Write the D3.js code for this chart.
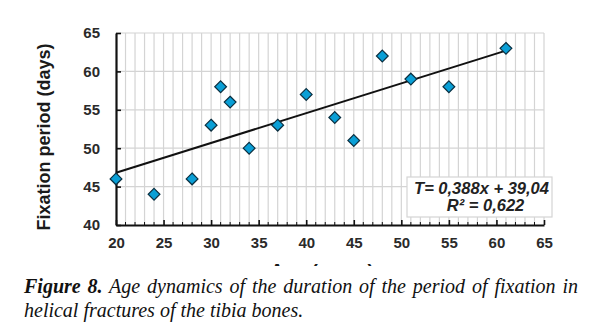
<!DOCTYPE html>
<html>
<head>
<meta charset="utf-8">
<script src="https://cdn.jsdelivr.net/npm/d3@7"></script>
<style>
  html, body { margin: 0; padding: 0; background: #fff; }
  svg { display: block; }
</style>
</head>
<body>
<script>
// Age (years) vs. fixation period (days)
const ages = [20, 24, 28, 30, 31, 32, 34, 37, 40, 43, 45, 48, 51, 55, 61];
const days = [46, 44, 46, 53, 58, 56, 50, 53, 57, 54, 51, 62, 59, 58, 63];
const xTicks = [20, 25, 30, 35, 40, 45, 50, 55, 60, 65];
const yTicks = [40, 45, 50, 55, 60, 65];
const slope = 0.388, intercept = 39.04, r2 = "0,622";
const fitRange = [20, 61];

const W = 598, H = 336;
const svg = d3.select("body").append("svg").attr("width", W).attr("height", H);

const x = d3.scaleLinear().domain([20, 65]).range([116, 544]);
const y = d3.scaleLinear().domain([40, 65]).range([225, 33]);

const g = svg.append("g");

// grid: one vertical line per year, horizontal lines every 5 days
g.selectAll("line.vgrid").data(d3.range(21, 66)).join("line")
  .attr("x1", d => x(d)).attr("x2", d => x(d))
  .attr("y1", y(40)).attr("y2", y(65))
  .attr("stroke", "#d4d4d4").attr("stroke-width", 1.2);
g.selectAll("line.hgrid").data(yTicks.slice(1)).join("line")
  .attr("x1", x(20)).attr("x2", x(65))
  .attr("y1", d => y(d)).attr("y2", d => y(d))
  .attr("stroke", "#d4d4d4").attr("stroke-width", 1.2);

// axes
const axisFont = "bold 15px 'Liberation Sans', Arial, sans-serif";
const xAxis = g.append("g").attr("transform", `translate(0,${y(40)})`)
  .call(d3.axisBottom(x).tickValues(xTicks).tickSize(-5).tickSizeOuter(0).tickPadding(12));
const yAxis = g.append("g").attr("transform", `translate(${x(20)},0)`)
  .call(d3.axisLeft(y).tickValues(yTicks).tickSize(-5).tickSizeOuter(0).tickPadding(16));
[xAxis, yAxis].forEach(a => {
  a.select(".domain").attr("stroke", "#111").attr("stroke-width", 2.2);
  a.selectAll(".tick line").attr("stroke", "#111").attr("stroke-width", 1.6);
  a.selectAll(".tick text").style("font", axisFont).attr("fill", "#2a2a2a");
});
xAxis.selectAll(".tick text").attr("dy", "0.71em");

// minor ticks on the x axis, one per year
g.selectAll("line.minor").data(d3.range(21, 65).filter(d => d % 5)).join("line")
  .attr("x1", d => x(d)).attr("x2", d => x(d))
  .attr("y1", y(40)).attr("y2", y(40) - 3)
  .attr("stroke", "#111").attr("stroke-width", 1);

// trend line
g.append("line")
  .attr("x1", x(fitRange[0])).attr("y1", y(slope * fitRange[0] + intercept))
  .attr("x2", x(fitRange[1])).attr("y2", y(slope * fitRange[1] + intercept))
  .attr("stroke", "#111").attr("stroke-width", 2);

// data points as diamonds
const diamond = d3.symbol().type(d3.symbolDiamond2).size(88);
g.selectAll("path.pt").data(ages.map((a, i) => [a, days[i]])).join("path")
  .attr("d", diamond)
  .attr("transform", d => `translate(${x(d[0])},${y(d[1])})`)
  .attr("fill", "#0a9fd6").attr("stroke", "#0b2f40").attr("stroke-width", 1.2);

// equation box
const bx = 407, by = 177, bw = 145, bh = 40;
g.append("rect").attr("x", bx).attr("y", by).attr("width", bw).attr("height", bh)
  .attr("fill", "#fff").attr("stroke", "#d4d4d4").attr("stroke-width", 1.2);
const eqFont = "italic bold 16.5px 'Liberation Sans', Arial, sans-serif";
g.append("text").attr("x", bx + bw / 2 + 2).attr("y", by + 17).attr("text-anchor", "middle")
  .style("font", eqFont).attr("fill", "#222")
  .text(`T= ${String(slope).replace(".", ",")}x + ${String(intercept).replace(".", ",")}`);
g.append("text").attr("x", bx + bw / 2 + 6).attr("y", by + 34).attr("text-anchor", "middle")
  .style("font", eqFont).attr("fill", "#222")
  .text(`R² = ${r2}`);

// axis titles
svg.append("text")
  .attr("transform", `translate(50,137) rotate(-90)`)
  .attr("text-anchor", "middle")
  .style("font", "bold 18px 'Liberation Sans', Arial, sans-serif").attr("fill", "#1a1a1a")
  .text("Fixation period (days)");

// the x-axis title runs under the caption band, so only its top edge shows
svg.append("defs").append("clipPath").attr("id", "chart-area")
  .append("rect").attr("x", 0).attr("y", 0).attr("width", W).attr("height", 266);
svg.append("text")
  .attr("clip-path", "url(#chart-area)")
  .attr("x", 322).attr("y", 277).attr("text-anchor", "middle")
  .style("font", "bold 19px 'Liberation Sans', Arial, sans-serif").attr("fill", "#1a1a1a")
  .text("Age (years)");

// caption
const capFont = "20px 'Liberation Serif', 'Times New Roman', serif";
const line1 = svg.append("text").attr("x", 24).attr("y", 293)
  .style("font", capFont).style("font-style", "italic").attr("fill", "#111");
line1.append("tspan").style("font-weight", "bold").text("Figure 8.");
line1.append("tspan").text(" Age dynamics of the duration of the period of fixation in");
// justify the first line across the text block
const target = 578 - 24;
const natural = line1.node().getComputedTextLength();
const gaps = (line1.text().match(/ /g) || []).length;
if (gaps > 0) line1.attr("word-spacing", (target - natural) / gaps);

svg.append("text").attr("x", 24).attr("y", 317)
  .style("font", capFont).style("font-style", "italic").attr("fill", "#111")
  .text("helical fractures of the tibia bones.");
</script>
</body>
</html>
